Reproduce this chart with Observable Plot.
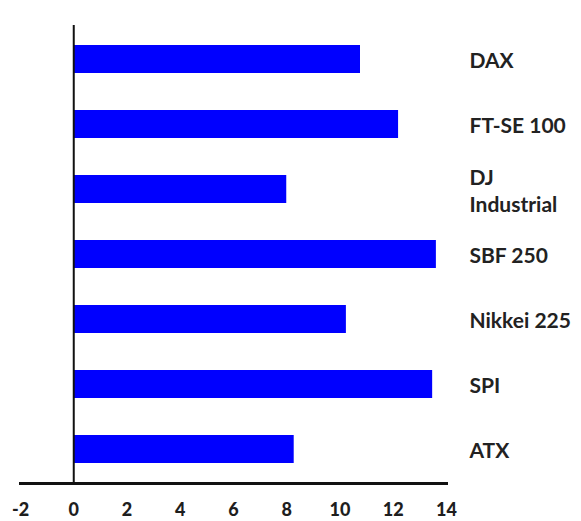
<!DOCTYPE html>
<html>
<head>
<meta charset="utf-8">
<script src="https://cdn.jsdelivr.net/npm/d3@7"></script>
<script src="https://cdn.jsdelivr.net/npm/@observablehq/plot@0.6"></script>
<style>
  html, body { margin: 0; padding: 0; background: #fff; }
</style>
</head>
<body>
<div id="chart"></div>
<script>
const categories = ["DAX", "FT-SE 100", "DJ Industrial", "SBF 250", "Nikkei 225", "SPI", "ATX"];
const values = [10.77, 12.2, 8.0, 13.62, 10.24, 13.48, 8.28];
const xTicks = [-2, 0, 2, 4, 6, 8, 10, 12, 14];
const labelText = {"DJ Industrial": "DJ\nIndustrial"};

const data = categories.map((c, i) => ({category: c, value: values[i]}));

const chart = Plot.plot({
  width: 581,
  height: 521,
  marginLeft: 20,
  marginRight: 135,
  marginTop: 25,
  marginBottom: 38,
  style: {fontFamily: "Lato, 'Open Sans', sans-serif", background: "#fff"},
  x: {domain: [-2, 14], ticks: xTicks},
  y: {domain: categories, paddingInner: 0.57, paddingOuter: 0.285},
  marks: [
    Plot.barX(data, {x1: 0, x2: "value", y: "category", fill: "#0000ff"}),
    Plot.ruleX([0], {stroke: "#111", strokeWidth: 2}),
    Plot.frame({anchor: "bottom", stroke: "#111", strokeWidth: 3}),
    Plot.axisX({
      ticks: xTicks,
      tickSize: 0,
      tickPadding: 20,
      fontSize: 18,
      fontWeight: 900,
      fill: "#1e1e1e",
      tickFormat: d => String(d),
      label: null
    }),
    Plot.axisY({
      anchor: "right",
      tickSize: 0,
      tickPadding: 23,
      fontSize: 21,
      fontWeight: "bold",
      fill: "#222",
      lineHeight: 1.3,
      textAnchor: "start",
      tickFormat: d => labelText[d] || d,
      label: null
    })
  ]
});

document.getElementById("chart").appendChild(chart);
</script>
</body>
</html>
